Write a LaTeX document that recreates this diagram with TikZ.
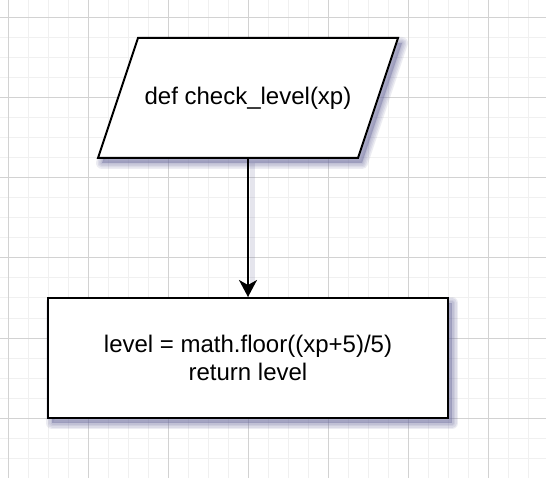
\documentclass[tikz,border=0pt]{standalone}
\usepackage{fontspec}
\setmainfont{Liberation Sans}
\usetikzlibrary{arrows.meta}
\definecolor{minorgrid}{HTML}{F0F0F0}
\definecolor{majorgrid}{HTML}{D2D2D2}
\definecolor{shadowcol}{HTML}{7070A0}
\begin{document}
\begin{tikzpicture}[x=1pt,y=-1pt,
  lbl/.style={font=\fontsize{24}{28.8}\selectfont, align=center, inner sep=0pt},
  shapeline/.style={draw=black, line width=2pt, fill=white, line join=miter},
  conn/.style={draw=black, line width=2pt, -{Stealth[length=17pt,width=18pt,inset=5pt]}},
  shadowlayer/.style={draw=shadowcol, fill=shadowcol, opacity=0.13, line join=round},
  minorline/.style={draw=minorgrid, line width=1pt},
  majorline/.style={draw=majorgrid, line width=1pt}
  ]
\useasboundingbox (0,0) rectangle (546,478);
\fill[white] (0,0) rectangle (546,478);
% grid
\foreach \k in {0,...,26} \draw[minorline] (8+20*\k,0) -- (8+20*\k,478);
\foreach \k in {0,...,23} \draw[minorline] (0,18+20*\k) -- (546,18+20*\k);
\foreach \k in {0,...,6} \draw[majorline] (8+80*\k,0) -- (8+80*\k,478);
\foreach \k in {0,...,5} \draw[majorline] (0,18+80*\k) -- (546,18+80*\k);
% shadows
\foreach \w in {12,9,6,3} {
  \draw[shadowlayer, line width=\w pt] (142,43) -- (402,43) -- (362,163) -- (102,163) -- cycle;
  \draw[shadowlayer, line width=\w pt] (52,303) rectangle (452,423);
}
\draw[draw=shadowcol, opacity=0.18, line width=5pt] (252,163) -- (252,284);
% parallelogram
\draw[shapeline] (138,38) -- (398,38) -- (358,158) -- (98,158) -- cycle;
\node[lbl] (p) at (248,98) {def check\_level(xp)};
\coordinate (pb) at (248,158);
% rectangle
\node[shapeline, minimum width=400pt, minimum height=120pt, inner sep=0pt] (r) at (248,358) {};
\node[lbl] (rt) at (r.center) {level = math.floor((xp+5)/5)\\return level};
% connector
\draw[conn] (pb) -- (r.north);
\end{tikzpicture}
\end{document}
